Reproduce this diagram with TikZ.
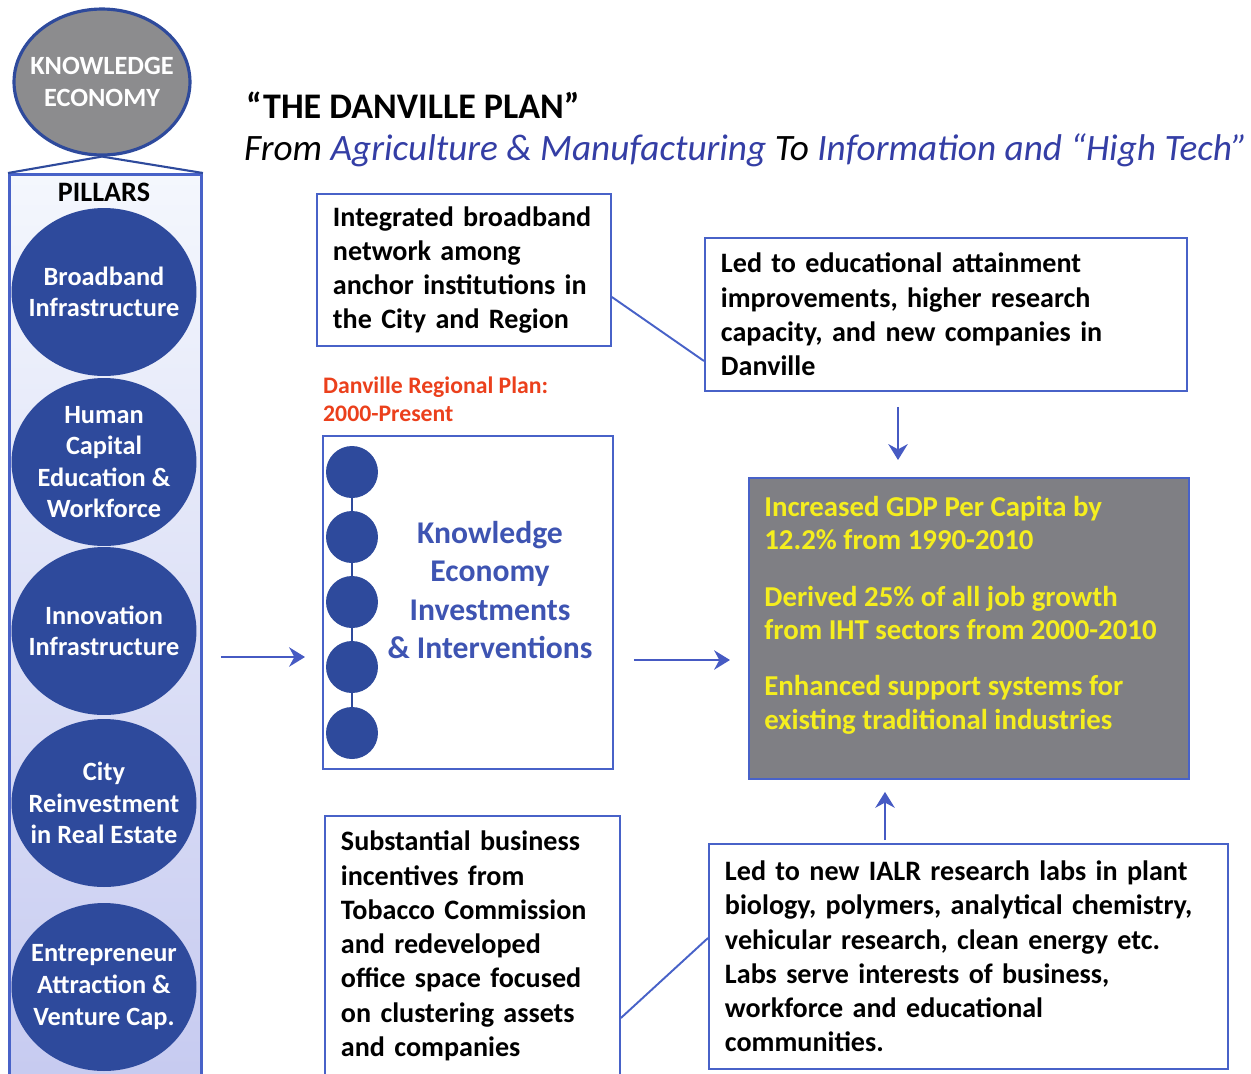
\documentclass[tikz,border=0pt]{standalone}
\usepackage{fontspec}
\setmainfont{Carlito}
\usetikzlibrary{shapes.geometric,arrows.meta}

\definecolor{pillarblue}{RGB}{46,74,156}
\definecolor{keygray}{RGB}{140,140,142}
\definecolor{lineblue}{RGB}{72,98,200}
\definecolor{arrowblue}{RGB}{70,90,195}
\definecolor{gdpgray}{RGB}{127,127,132}
\definecolor{gdpyellow}{RGB}{245,238,30}
\definecolor{planred}{RGB}{235,64,28}
\definecolor{subblue}{RGB}{52,62,165}
\definecolor{investblue}{RGB}{62,84,178}
\definecolor{shadetop}{RGB}{244,247,253}
\definecolor{shadebot}{RGB}{198,202,240}

\tikzset{
    pillar/.style={ellipse, fill=pillarblue, minimum width=3.7cm,
        minimum height=3.36cm, inner sep=0pt},
    pillartxt/.style={text=white, align=center, inner sep=0pt,
        font=\bfseries\fontsize{15}{18}\selectfont},
    infobox/.style={draw=lineblue, line width=1.1pt, anchor=north west,
        align=left, inner xsep=0.32cm, inner ysep=0pt,
        font=\bfseries\fontsize{16}{19.5}\selectfont},
    flow/.style={-{Stealth[length=9pt,width=11pt]}, draw=arrowblue, line width=1.6pt},
    dot/.style={circle, fill=pillarblue, minimum size=1.04cm, inner sep=0pt},
}

\begin{document}
\begin{tikzpicture}[x=0.02cm,y=-0.02cm]
    \useasboundingbox (0,0) rectangle (1251,1073);

    % left column: the economy on top of its pillars
    \node[draw=lineblue, line width=1.7pt, anchor=north west, top color=shadetop,
        bottom color=shadebot, minimum width=3.84cm, minimum height=18.34cm,
        inner sep=0pt] (pillarbox) at (8,173) {};
    \node[ellipse, draw=pillarblue, line width=1.8pt, fill=keygray,
        minimum width=3.52cm, minimum height=2.92cm, inner sep=0pt] (keco) at (102,82) {};
    \node[pillartxt] (keco-t) at (keco) {KNOWLEDGE\\ECONOMY};
    \draw[pillarblue, line width=1.2pt] (pillarbox.north west) -- (keco.south) -- (pillarbox.north east);
    \node[font=\bfseries\fontsize{16}{19}\selectfont] (pillarlbl) at (104,192) {PILLARS};
    \foreach \y/\txt [count=\i] in {292/{Broadband\\Infrastructure},
            462/{Human\\Capital\\Education \&\\Workforce},
            631/{Innovation\\Infrastructure},
            803/{City\\Reinvestment\\in Real Estate},
            987/{Entrepreneur\\Attraction \&\\Venture Cap.}}
    {
        \node[pillar] (p\i) at (104,\y) {};
        \node[pillartxt] (p\i-t) at (p\i) {\txt};
    }

    % heading
    \node[anchor=west, font=\bfseries\fontsize{20.5}{24}\selectfont] (title) at (240,105)
        {“THE DANVILLE PLAN”};
    \node[anchor=west, font=\itshape\fontsize{21.2}{25}\selectfont] (subtitle) at (238,150)
        {From \textcolor{subblue}{Agriculture \& Manufacturing} To
        \textcolor{subblue}{Information and “High Tech”}};

    % upper boxes
    \node[infobox, text width=5.24cm, minimum height=3.04cm] (broadband) at (316,193)
        {Integrated broadband\\network among\\anchor institutions in\\the City and Region};
    \node[infobox, text width=9cm, minimum height=3.06cm] (lededu) at (704,237)
        {Led to educational attainment\\improvements, higher research\\capacity, and new companies in\\Danville};
    \draw[lineblue, line width=1.1pt] (broadband.east |- 0,297) -- (lededu.west |- 0,361);

    % the plan itself
    \node[anchor=west, text=planred, align=left,
        font=\bfseries\fontsize{13.5}{16}\selectfont] (planlbl) at (317,399)
        {Danville Regional Plan:\\2000-Present};
    \node[draw=lineblue, line width=1.1pt, anchor=north west, minimum width=5.8cm,
        minimum height=6.66cm, inner sep=0pt] (invest) at (322,435) {};
    \foreach \y [count=\i] in {472,537,602,667,733}
        \node[dot] (d\i) at (352,\y) {};
    \foreach \a/\b in {1/2,2/3,3/4,4/5}
        \draw[pillarblue, line width=1.5pt] (d\a) -- (d\b);
    \node[text=investblue, align=center, font=\bfseries\fontsize{18}{22}\selectfont] (investtxt)
        at (490,590) {Knowledge\\Economy\\Investments\\\& Interventions};

    % results
    \node[infobox, fill=gdpgray, text width=8.16cm, minimum height=6.02cm] (gdp) at (748,477) {};
    \node[anchor=north west, text=gdpyellow, align=left, inner sep=0pt,
        font=\bfseries\fontsize{16.4}{19}\selectfont] (gdp-t) at (764,496)
        {Increased GDP Per Capita by\\12.2\% from 1990-2010\\[13pt]
        Derived 25\% of all job growth\\from IHT sectors from 2000-2010\\[13pt]
        Enhanced support systems for\\existing traditional industries};

    % lower boxes
    \node[infobox, text width=5.26cm, minimum height=5.2cm] (incent) at (324,815)
        {Substantial business\\incentives from\\Tobacco Commission\\and redeveloped\\office space focused\\on clustering assets\\and companies};
    \node[infobox, text width=9.74cm, minimum height=4.5cm] (labs) at (708,843)
        {Led to new IALR research labs in plant\\biology, polymers, analytical chemistry,\\vehicular research, clean energy etc.\\Labs serve interests of business,\\workforce and educational\\communities.};
    \draw[lineblue, line width=1.1pt] (incent.east |- 0,1018) -- (labs.west |- 0,938);

    % arrows
    \draw[flow, shorten <=0.36cm, shorten >=0.34cm] (pillarbox.east |- 0,657) -- (invest.west |- 0,657);
    \draw[flow, shorten <=0.4cm, shorten >=0.36cm] (invest.east |- 0,660) -- (gdp.west |- 0,660);
    \draw[flow, shorten <=0.3cm, shorten >=0.34cm] (lededu.south -| 898,0) -- (gdp.north -| 898,0);
    \draw[flow, shorten <=0.06cm, shorten >=0.24cm] (labs.north -| 885,0) -- (gdp.south -| 885,0);
\end{tikzpicture}
\end{document}
